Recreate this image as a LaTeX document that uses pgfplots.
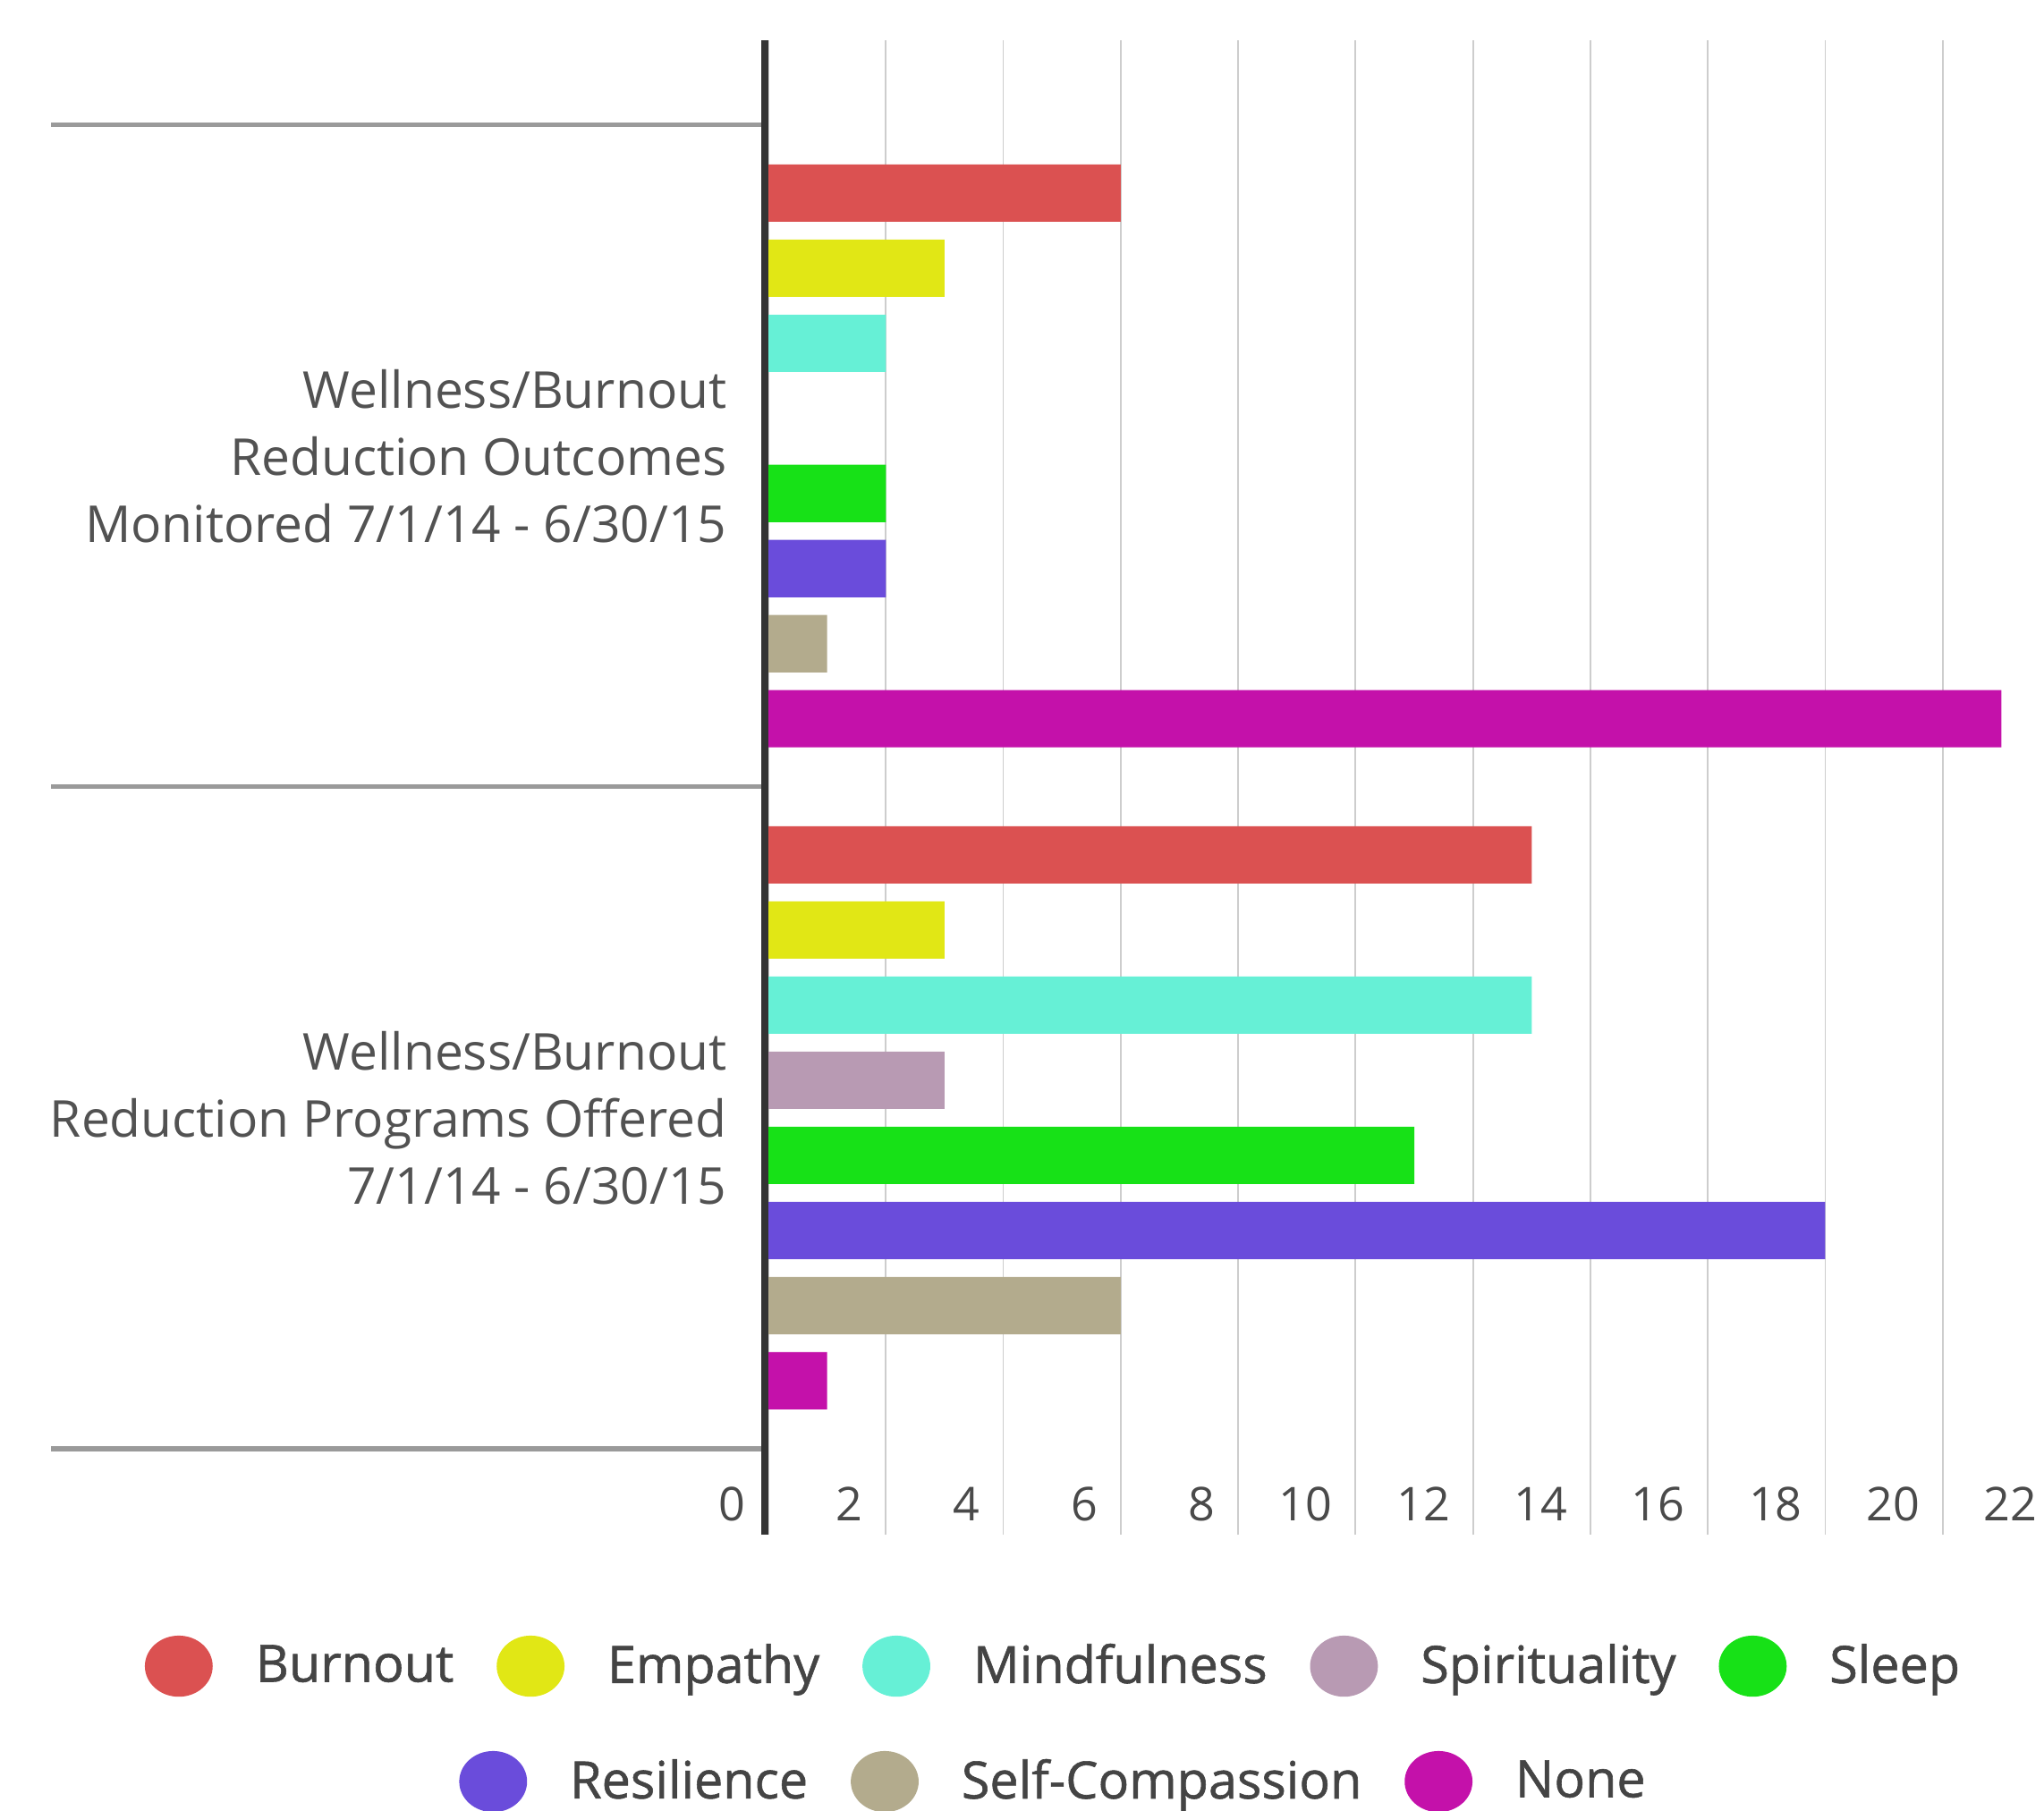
\documentclass[border=0pt]{standalone}
\usepackage{fontspec}
\setmainfont{Open Sans}
\newfontfamily\legfont{Open Sans}[FakeBold=1.0]
\usepackage{pgfplots}
\pgfplotsset{compat=1.18}

\definecolor{cBurnout}{HTML}{DB5151}
\definecolor{cEmpathy}{HTML}{E1E715}
\definecolor{cMindful}{HTML}{66F0D6}
\definecolor{cSpirit}{HTML}{B89AB3}
\definecolor{cSleep}{HTML}{17E117}
\definecolor{cResil}{HTML}{6A4CDB}
\definecolor{cSelf}{HTML}{B3AB8D}
\definecolor{cNone}{HTML}{C411AA}
\definecolor{labelgray}{HTML}{525252}
\definecolor{tickgray}{HTML}{4A4A4A}
\definecolor{legtext}{HTML}{444444}
\definecolor{gridgray}{HTML}{CDCDCD}
\definecolor{sepgray}{HTML}{9A9A9A}
\definecolor{axisdark}{HTML}{333333}

\pgfplotsset{
  dotlegend/.style={
    legend image code/.code={\fill[##1] (9.1pt,0pt) ellipse (9.1pt and 8.2pt);},
  },
  legrow/.style={
    draw=none, fill=none, anchor=center,
    font=\legfont\fontsize{13.8}{16}\selectfont, text=legtext,
    column sep=11.5pt, nodes={inner sep=0pt},
  },
}

\begin{document}
\begin{tikzpicture}
\begin{axis}[
  scale only axis,
  width=346.56pt, height=401.04pt,
  xbar,
  bar width=0.0865,
  enlargelimits=false,
  xmin=0, xmax=22,
  ymin=-0.630, ymax=1.628,
  xtick={0,2,...,22},
  ytick={0,1},
  yticklabels={{Wellness/Burnout\\Reduction Programs Offered\\7/1/14 - 6/30/15},
               {Wellness/Burnout\\Reduction Outcomes\\Monitored 7/1/14 - 6/30/15}},
  yticklabel style={align=right, anchor=east, inner sep=0pt, xshift=-11pt,
    font=\fontsize{13.65}{18}\selectfont, text=labelgray},
  xticklabel style={anchor=base east, inner sep=0pt, xshift=-6pt, yshift=3.8pt,
    font=\fontsize{12.5}{14}\selectfont, text=tickgray},
  /pgf/number format/assume math mode=true,
  major tick length=0pt,
  xmajorgrids,
  grid style={gridgray, line width=0.45pt},
  axis line style={draw=none},
  clip=false,
  dotlegend,
  legend columns=5,
  legend style={legrow, at={(0.2199,-0.088)}},
]
\addplot[fill=cBurnout, draw=none, bar shift=0.39725] coordinates {(6,1) (13,0)};
\addplot[fill=cEmpathy, draw=none, bar shift=0.28375] coordinates {(3,1) (3,0)};
\addplot[fill=cMindful, draw=none, bar shift=0.17025] coordinates {(2,1) (13,0)};
\addplot[fill=cSpirit,  draw=none, bar shift=0.05675] coordinates {(0,1) (3,0)};
\addplot[fill=cSleep,   draw=none, bar shift=-0.05675] coordinates {(2,1) (11,0)};
\addplot[fill=cResil,   draw=none, bar shift=-0.17025] coordinates {(2,1) (18,0)};
\addplot[fill=cSelf,    draw=none, bar shift=-0.28375] coordinates {(1,1) (6,0)};
\addplot[fill=cNone,    draw=none, bar shift=-0.39725] coordinates {(21,1) (1,0)};
\legend{Burnout,Empathy,Mindfulness,Spirituality,Sleep}

% category separators
\draw[sepgray, line width=1.3pt] (axis cs:0,-0.5) -- ++(-192.5pt,0pt);
\draw[sepgray, line width=1.3pt] (axis cs:0,0.5) -- ++(-192.5pt,0pt);
\draw[sepgray, line width=1.3pt] (axis cs:0,1.5) -- ++(-192.5pt,0pt);
% left axis line
\draw[axisdark, line width=1.9pt] ([xshift=-0.95pt]rel axis cs:0,0) -- ([xshift=-0.95pt]rel axis cs:0,1);
\end{axis}

% second legend row
\begin{axis}[
  scale only axis,
  width=346.56pt, height=401.04pt,
  hide axis,
  xmin=0, xmax=1, ymin=0, ymax=1,
  dotlegend,
  legend columns=3,
  legend style={legrow, at={(0.2199,-0.1652)}},
]
\addlegendimage{fill=cResil, draw=none}
\addlegendentry{Resilience}
\addlegendimage{fill=cSelf, draw=none}
\addlegendentry{Self-Compassion}
\addlegendimage{fill=cNone, draw=none}
\addlegendentry{None}
\end{axis}

\pgfresetboundingbox
\useasboundingbox (-206.16pt,-73.92pt) rectangle (342.24pt,411.84pt);
\end{tikzpicture}
\end{document}
